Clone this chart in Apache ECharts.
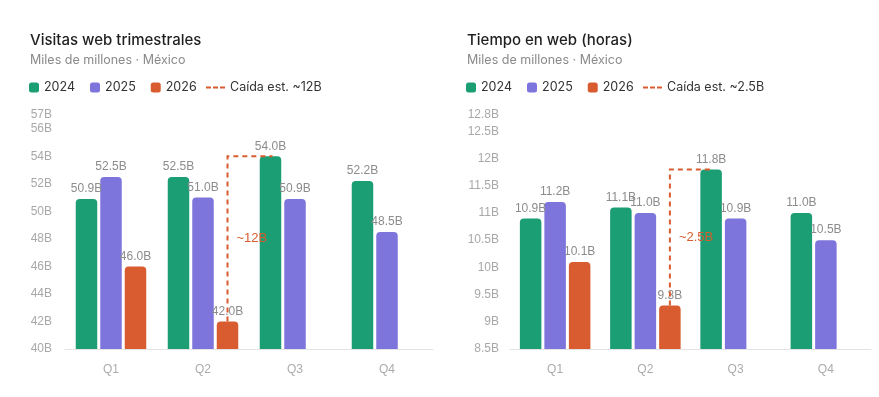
<!DOCTYPE html>
<html>
<head>
<meta charset="utf-8">
<script src="https://cdn.jsdelivr.net/npm/echarts@6/dist/echarts.min.js"></script>
<style>
  html, body { margin: 0; padding: 0; background: #fff; }
  #chart { width: 879px; height: 397px; }
</style>
</head>
<body>
<div id="chart"></div>
<script>
// Datos (miles de millones)
const quarters = ['Q1', 'Q2', 'Q3', 'Q4'];
const years = ['2024', '2025', '2026'];

const visitas2024 = [50.9, 52.5, 54.0, 52.2];
const visitas2025 = [52.5, 51.0, 50.9, 48.5];
const visitas2026 = [46.0, 42.0, null, null];

const tiempo2024 = [10.9, 11.1, 11.8, 11.0];
const tiempo2025 = [11.2, 11.0, 10.9, 10.5];
const tiempo2026 = [10.1, 9.3, null, null];

// caída: [trimestre origen, valor origen, trimestre destino, valor destino]
const visitasDrop = [1, 42.0, 2, 54.0];
const tiempoDrop = [1, 9.3, 2, 11.8];
const visitasDropLabel = '~12B';
const tiempoDropLabel = '~2.5B';
const visitasDropName = 'Caída est. ~12B';
const tiempoDropName = 'Caída est. ~2.5B';

// ejes
const visitasAxis = [40, 57, 2];   // min, max, intervalo
const tiempoAxis = [8.5, 12.8, 0.5];

const GREEN = '#1c9e74';
const PURPLE = '#7d74dc';
const ORANGE = '#d85c2f';
const BAR_W = 21.5;
const BAR_GAP = 0.14;
const AXIS_FONT = 'Liberation Sans';
const UI_FONT = 'Inter';

const chart = echarts.init(document.getElementById('chart'));

function barSeries(name, data, color, idx) {
    return {
        name: name,
        type: 'bar',
        xAxisIndex: idx,
        yAxisIndex: idx,
        data: data,
        barWidth: BAR_W,
        barGap: (BAR_GAP * 100) + '%',
        itemStyle: { color: color, borderRadius: [4, 4, 0, 0] },
        label: {
            show: true,
            position: 'top',
            distance: 4,
            color: '#8c8c8c',
            fontSize: 12,
            fontFamily: AXIS_FONT,
            formatter: p => p.value.toFixed(1) + 'B'
        }
    };
}

function dropSeries(name, drop, label, idx) {
    return {
        name: name,
        type: 'custom',
        xAxisIndex: idx,
        yAxisIndex: idx,
        itemStyle: { color: ORANGE },
        encode: { x: [0, 2], y: [1, 3] },
        data: [drop],
        z: 5,
        renderItem: function (params, api) {
            const from = api.coord([api.value(0), api.value(1)]);
            const to = api.coord([api.value(2), api.value(3)]);
            const step = BAR_W * (1 + BAR_GAP);
            const x1 = from[0] + step;   // barra 2026 (derecha)
            const x2 = to[0] - step + 2; // barra 2024 (izquierda)
            return {
                type: 'group',
                children: [
                    {
                        type: 'polyline',
                        shape: { points: [[x1, from[1]], [x1, to[1]], [x2, to[1]]] },
                        style: { stroke: ORANGE, lineWidth: 2, lineDash: [5, 4], fill: null }
                    },
                    {
                        type: 'text',
                        style: {
                            text: label,
                            x: x1 + 9,
                            y: (from[1] + to[1]) / 2,
                            verticalAlign: 'middle',
                            fill: ORANGE,
                            font: '13px "' + AXIS_FONT + '"'
                        }
                    }
                ]
            };
        }
    };
}

function xAxis(idx) {
    return {
        type: 'category',
        gridIndex: idx,
        data: quarters,
        axisTick: { show: false },
        axisLine: { lineStyle: { color: '#e3e3e3' } },
        axisLabel: { color: '#ababab', fontSize: 12, fontFamily: AXIS_FONT, margin: 15 }
    };
}

function yAxis(idx, ax, margin) {
    return {
        type: 'value',
        gridIndex: idx,
        min: ax[0],
        max: ax[1],
        interval: ax[2],
        splitLine: { show: false },
        axisLine: { show: false },
        axisTick: { show: false },
        axisLabel: {
            color: '#a8a8a8', fontSize: 12, fontFamily: AXIS_FONT, margin: margin,
            formatter: v => v + 'B'
        }
    };
}

function titleBlock(text, left) {
    return {
        text: text,
        subtext: 'Miles de millones · México',
        left: left,
        top: 30,
        padding: 0,
        itemGap: 2,
        textStyle: { fontFamily: UI_FONT, fontSize: 15, fontWeight: 500, color: '#1f1f1f', lineHeight: 20 },
        subtextStyle: { fontFamily: UI_FONT, fontSize: 12.5, color: '#8a8a8a', lineHeight: 16 }
    };
}

function barLegend(left) {
    return {
        left: left,
        top: 81,
        padding: 0,
        itemWidth: 10,
        itemHeight: 10,
        itemGap: 15,
        icon: 'roundRect',
        selectedMode: false,
        data: years,
        textStyle: { fontFamily: UI_FONT, fontSize: 12.5, color: '#333' }
    };
}

function dropLegend(name, left) {
    return {
        left: left,
        top: 81,
        padding: 0,
        itemWidth: 19,
        itemHeight: 2,
        selectedMode: false,
        data: [{ name: name, icon: 'path://M0,0h5v2h-5z M7,0h5v2h-5z M14,0h5v2h-5z' }],
        textStyle: { fontFamily: UI_FONT, fontSize: 12.5, color: '#333' }
    };
}

const option = {
    animation: false,
    title: [titleBlock('Visitas web trimestrales', 30), titleBlock('Tiempo en web (horas)', 467)],
    legend: [barLegend(29), dropLegend(visitasDropName, 206), barLegend(466), dropLegend(tiempoDropName, 643)],
    grid: [
        { left: 65, right: 446, top: 115, bottom: 48 },
        { left: 510, right: 8, top: 115, bottom: 48 }
    ],
    xAxis: [xAxis(0), xAxis(1)],
    yAxis: [yAxis(0, visitasAxis, 13), yAxis(1, tiempoAxis, 11)],
    series: [
        barSeries('2024', visitas2024, GREEN, 0),
        barSeries('2025', visitas2025, PURPLE, 0),
        barSeries('2026', visitas2026, ORANGE, 0),
        dropSeries(visitasDropName, visitasDrop, visitasDropLabel, 0),
        barSeries('2024', tiempo2024, GREEN, 1),
        barSeries('2025', tiempo2025, PURPLE, 1),
        barSeries('2026', tiempo2026, ORANGE, 1),
        dropSeries(tiempoDropName, tiempoDrop, tiempoDropLabel, 1)
    ]
};

chart.setOption(option);
</script>
</body>
</html>
